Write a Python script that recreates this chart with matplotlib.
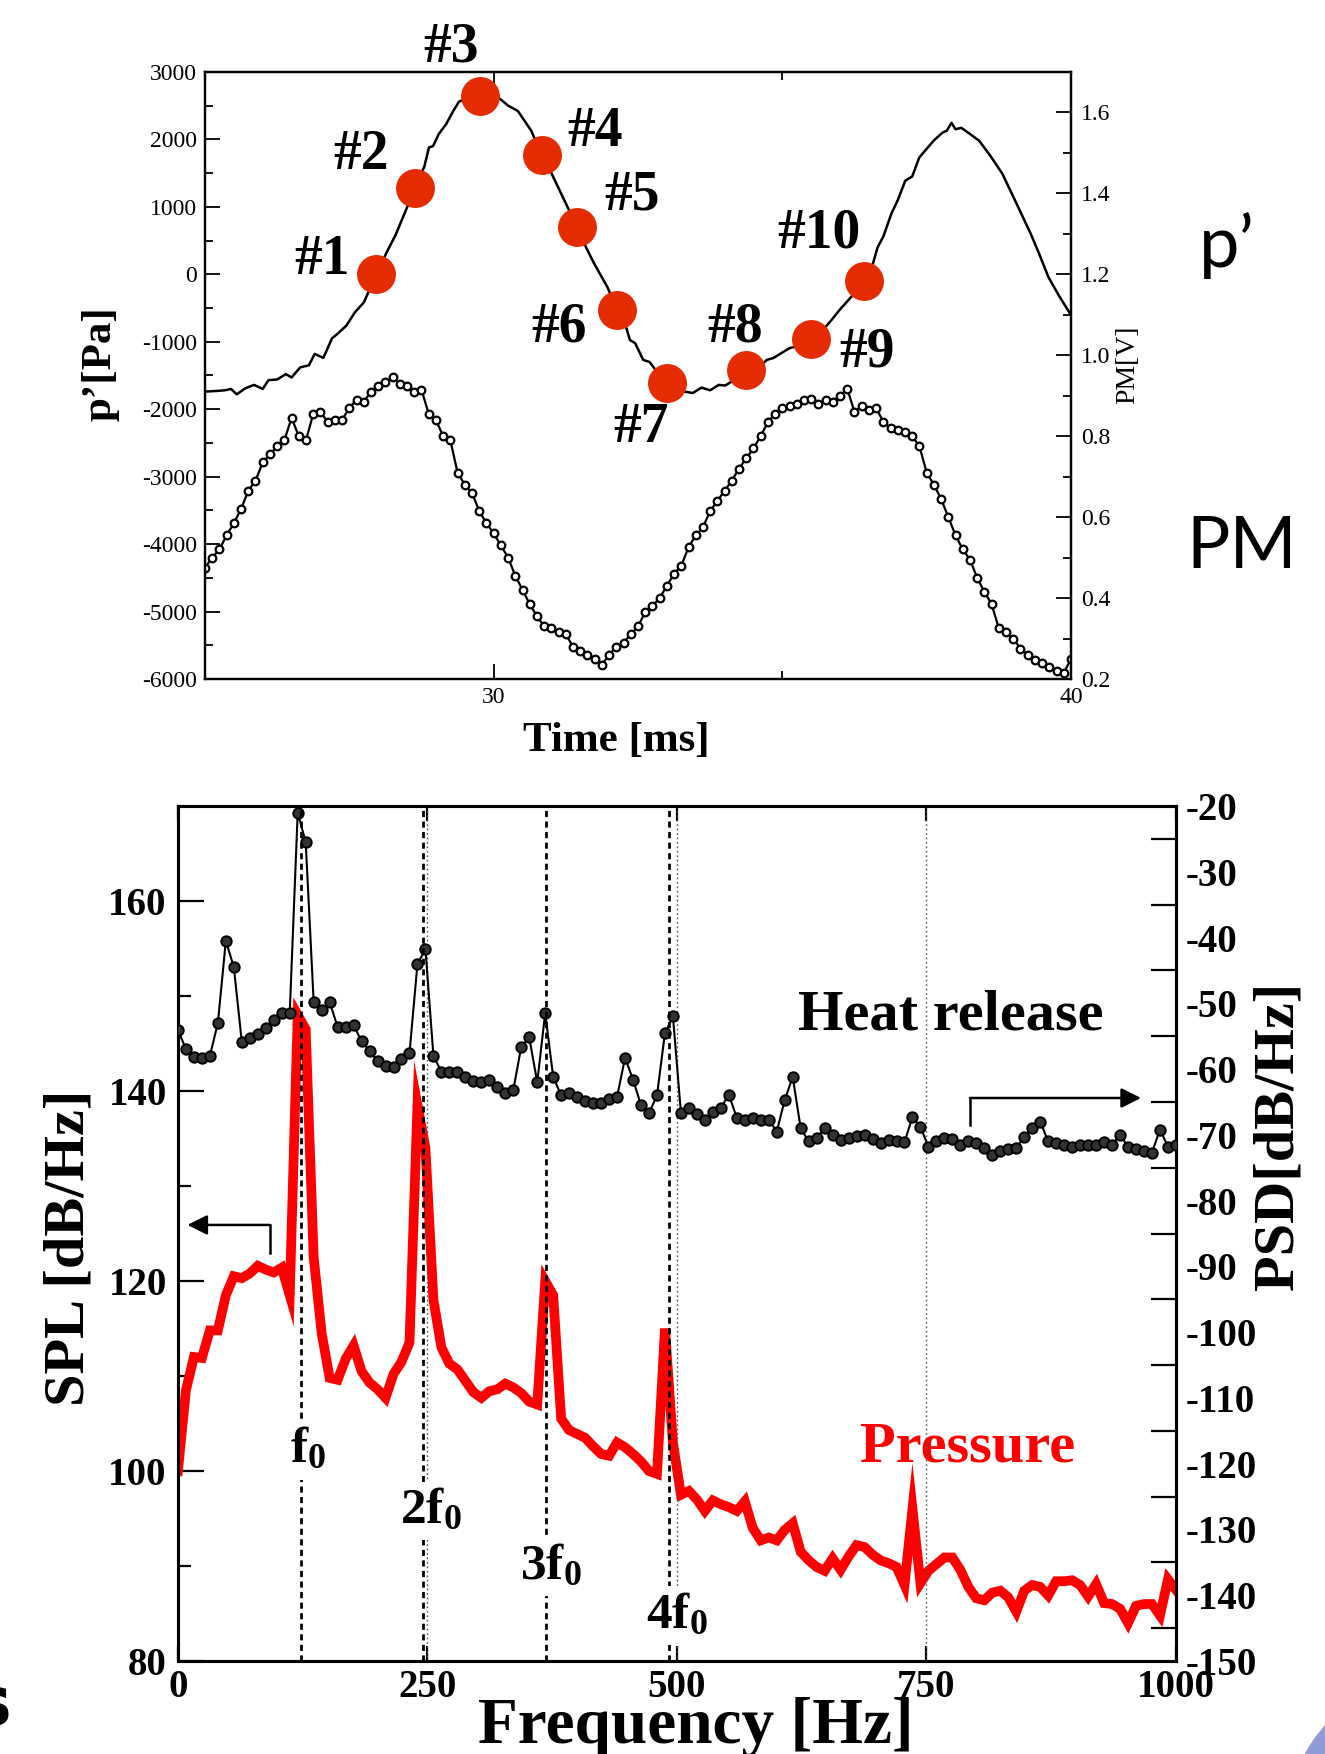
import matplotlib
matplotlib.use("agg")
import matplotlib.pyplot as plt
import numpy as np
from matplotlib.patches import Ellipse

plt.rcParams.update({
    "font.family": "Liberation Serif",
    "mathtext.fontset": "custom",
    "mathtext.rm": "Liberation Serif",
    "mathtext.bf": "Liberation Serif:bold",
    "mathtext.it": "Liberation Serif:italic",
    "axes.unicode_minus": False,
})

# ---- top panel: pressure trace p' [Pa] and PM signal [V] vs time [ms]
p_time = [25.0, 25.2, 25.35, 25.45, 25.55, 25.7, 25.85, 26.0, 26.1, 26.25,
          26.4, 26.5, 26.65, 26.8, 26.9, 27.05, 27.2, 27.3, 27.45, 27.6,
          27.75, 27.97, 28.15, 28.3, 28.48, 28.64, 28.8, 28.88, 28.95, 29.05,
          29.18, 29.3, 29.4, 29.57, 29.77, 29.95, 30.11, 30.25, 30.42, 30.65,
          30.83, 31.0, 31.12, 31.3, 31.45, 31.6, 31.74, 31.97, 32.14, 32.3,
          32.36, 32.45, 32.59, 32.7, 32.85, 33.01, 33.15, 33.3, 33.45, 33.6,
          33.75, 33.9, 34.01, 34.2, 34.37, 34.5, 34.6, 34.73, 34.85, 35.0,
          35.13, 35.3, 35.5, 35.6, 35.7, 35.85, 36.0, 36.2, 36.41, 36.55,
          36.65, 36.75, 36.89, 37.0, 37.13, 37.25, 37.37, 37.5, 37.62, 37.77,
          37.85, 37.93, 38.0, 38.1, 38.25, 38.41, 38.6, 38.81, 39.05, 39.3,
          39.45, 39.61, 39.8, 40.0]
p_pa = [-1740, -1730, -1720, -1700, -1780, -1690, -1640, -1700, -1570, -1560,
        -1480, -1530, -1380, -1350, -1180, -1240, -950, -880, -760, -560,
        -420, 0, 330, 580, 950, 1285, 1600, 1880, 1900, 2080,
        2230, 2420, 2560, 2620, 2644, 2640, 2600, 2500, 2420, 2130,
        1772, 1500, 1285, 960, 694, 400, 160, -190, -532, -800,
        -975, -1020, -1270, -1300, -1470, -1610, -1700, -1740, -1760, -1680,
        -1720, -1640, -1650, -1550, -1418, -1350, -1380, -1270, -1240, -1160,
        -1093, -1060, -960, -880, -830, -680, -520, -330, -103, 100,
        399, 560, 901, 1100, 1388, 1450, 1728, 1860, 1979, 2097,
        2130, 2245, 2150, 2171, 2080, 1979, 1760, 1492, 1060, 605,
        300, -44, -330, -605]

snap_names = ["#1", "#2", "#3", "#4", "#5", "#6", "#7", "#8", "#9", "#10"]
snap_time = [27.97, 28.64, 29.77, 30.83, 31.45, 32.14, 33.01, 34.37, 35.5, 36.41]
snap_pa = [0, 1285, 2644, 1772, 694, -532, -1610, -1418, -960, -103]

pm_time = np.linspace(25.0, 40.0, 121)
pm_volt = [0.475, 0.50, 0.52, 0.555, 0.585, 0.62, 0.665, 0.69, 0.735, 0.755,
           0.775, 0.79, 0.845, 0.80, 0.79, 0.855, 0.86, 0.835, 0.84, 0.84,
           0.87, 0.89, 0.885, 0.91, 0.925, 0.935, 0.945, 0.93, 0.925, 0.91,
           0.915, 0.855, 0.84, 0.80, 0.79, 0.71, 0.68, 0.66, 0.615, 0.585,
           0.56, 0.53, 0.50, 0.455, 0.42, 0.385, 0.355, 0.33, 0.325, 0.315,
           0.31, 0.28, 0.27, 0.26, 0.25, 0.235, 0.26, 0.28, 0.29, 0.31,
           0.33, 0.365, 0.38, 0.40, 0.43, 0.46, 0.48, 0.525, 0.555, 0.575,
           0.615, 0.64, 0.665, 0.69, 0.72, 0.745, 0.77, 0.80, 0.835, 0.855,
           0.87, 0.875, 0.88, 0.89, 0.892, 0.88, 0.89, 0.885, 0.90, 0.917,
           0.86, 0.875, 0.865, 0.87, 0.835, 0.82, 0.815, 0.81, 0.80, 0.775,
           0.71, 0.68, 0.645, 0.60, 0.555, 0.52, 0.495, 0.45, 0.415, 0.385,
           0.325, 0.315, 0.30, 0.275, 0.26, 0.247, 0.24, 0.23, 0.22, 0.215,
           0.25]

# ---- bottom panel: spectra
freq = np.arange(0, 1001, 8)
spl = [100.0, 108.5, 112.0, 111.9, 114.8, 114.8, 118.5, 120.5, 120.3, 120.8,
       121.6, 121.2, 120.9, 121.4, 118.5, 148.0, 146.5, 122.5, 114.5, 109.8,
       109.6, 111.8, 113.2, 110.5, 109.3, 108.6, 107.7, 110.2, 111.5, 113.5,
       138.5, 134.0, 118.0, 113.0, 111.3, 110.7, 109.5, 108.3, 107.7, 108.4,
       108.6, 109.2, 108.8, 108.2, 107.3, 107.0, 120.0, 118.5, 105.5, 104.3,
       103.9, 103.5, 102.6, 101.8, 101.6, 103.0, 102.5, 101.8, 101.0, 100.0,
       99.7, 115.0, 103.0, 97.5, 97.9, 97.0, 95.8, 96.9, 96.5, 96.2,
       95.8, 96.8, 94.0, 92.7, 93.0, 92.7, 93.8, 94.5, 91.5, 90.6,
       89.9, 89.5, 90.8, 89.6, 91.0, 92.2, 92.0, 91.2, 90.6, 90.3,
       89.9, 88.0, 96.0, 88.2, 89.5, 90.2, 90.9, 90.9, 89.6, 87.8,
       86.6, 86.4, 87.2, 87.4, 86.7, 85.2, 87.4, 88.0, 87.8, 86.9,
       88.4, 88.4, 88.5, 88.0, 86.8, 88.1, 86.1, 86.0, 85.5, 84.0,
       85.8, 86.0, 86.0, 84.8, 88.6, 87.5]
psd = [-54.0, -57.0, -58.1, -58.3, -58.0, -53.0, -40.5, -44.5, -55.9, -55.3,
       -54.6, -53.8, -52.5, -51.5, -51.5, -21.0, -25.5, -49.8, -51.0, -49.8,
       -53.6, -53.6, -53.3, -55.8, -57.2, -58.8, -59.6, -59.7, -58.5, -57.6,
       -44.0, -41.8, -58.0, -60.4, -60.5, -60.5, -61.2, -61.8, -62.0, -61.6,
       -62.8, -63.6, -63.2, -56.6, -55.2, -62.0, -51.5, -61.2, -64.0, -63.6,
       -64.3, -64.8, -65.1, -65.2, -64.5, -64.2, -58.3, -61.6, -65.5, -66.7,
       -64.0, -54.5, -52.0, -66.7, -65.9, -66.8, -67.7, -66.5, -65.9, -63.9,
       -67.4, -67.7, -67.5, -67.8, -67.7, -69.5, -64.7, -61.2, -69.0, -71.0,
       -70.5, -69.0, -70.0, -70.8, -70.5, -70.2, -70.0, -70.6, -71.2, -70.8,
       -71.0, -71.1, -67.3, -68.8, -71.8, -71.0, -70.5, -70.6, -71.5, -71.0,
       -71.3, -72.0, -73.0, -72.5, -72.2, -72.0, -70.3, -69.0, -68.0, -71.0,
       -71.3, -71.5, -71.8, -71.5, -71.5, -71.6, -71.1, -71.5, -70.0, -71.8,
       -72.2, -72.5, -72.7, -69.2, -71.8, -71.5]

harmonic_freq = [123, 246, 369, 492]
harmonic_names = [r"$\mathbf{f}_{\mathbf{0}}$", r"$\mathbf{2f}_{\mathbf{0}}$",
                  r"$\mathbf{3f}_{\mathbf{0}}$", r"$\mathbf{4f}_{\mathbf{0}}$"]
grid_freq = [250, 500, 750]

fig = plt.figure(figsize=(13.25, 17.54), dpi=100)

# ================= top panel =================
ax1 = fig.add_axes([0.1547, 0.6129, 0.6536, 0.3461])
ax1r = ax1.twinx()
ax1.set_zorder(ax1r.get_zorder() + 1)
ax1.patch.set_visible(False)

ax1r.plot(pm_time, pm_volt, "-o", color="black", lw=1.6, ms=5.5, mfc="white",
          mec="black", mew=1.6)
ax1.plot(p_time, p_pa, color="black", lw=1.8)
ax1.plot(snap_time, snap_pa, "o", color="#e52b00", ms=27, zorder=5)

snap_label_pos = [(27.03, 216), (27.71, 1774), (29.26, 3366), (31.75, 2106),
                  (32.39, 1161), (31.13, -796), (32.56, -2272), (34.19, -796),
                  (36.47, -1161), (35.64, 597)]
for name, (lx, ly) in zip(snap_names, snap_label_pos):
    ax1.text(lx, ly, name, fontsize=40, fontweight="bold", ha="center",
             va="center", clip_on=False, zorder=6)

ax1.set_xlim(25, 40)
ax1.set_ylim(-6000, 3000)
ax1r.set_ylim(0.2, 1.7)

yt = list(range(-6000, 3001, 1000))
ax1.set_yticks(yt)
ax1.set_yticklabels([str(v) for v in yt])
ax1.set_yticks(list(range(-5500, 3000, 1000)), minor=True)
ax1.set_xticks([30, 40])
ax1.set_xticklabels(["30", "40"])
ax1.set_xticks([35], minor=True)
rt = [0.2, 0.4, 0.6, 0.8, 1.0, 1.2, 1.4, 1.6]
ax1r.set_yticks(rt)
ax1r.set_yticklabels([f"{v:.1f}" for v in rt])
ax1r.set_yticks([0.3, 0.5, 0.7, 0.9, 1.1, 1.3, 1.5], minor=True)

ax1.tick_params(which="both", direction="in", top=True, labelsize=17, width=1.3)
ax1.tick_params(which="major", length=11, pad=6)
ax1.tick_params(which="minor", length=6)
ax1r.tick_params(which="both", direction="in", labelsize=17, width=1.3)
ax1r.tick_params(which="major", length=11, pad=7)
ax1r.tick_params(which="minor", length=6)
for a in (ax1, ax1r):
    for s in a.spines.values():
        s.set_linewidth(1.6)

ax1.text(0.475, -0.102, "Time [ms]", transform=ax1.transAxes, fontsize=31,
         fontweight="bold", ha="center", va="center")
ax1.text(-0.121, 0.519, "p’[Pa]", transform=ax1.transAxes, fontsize=31,
         fontweight="bold", ha="center", va="center", rotation=90)
ax1.text(1.065, 0.517, "PM[V]", transform=ax1.transAxes, fontsize=20,
         ha="center", va="center", rotation=90)

fig.text(0.926, 0.86, "p’", fontsize=52, family="Lato", ha="center", va="center")
fig.text(0.937, 0.6876, "PM", fontsize=52, family="Lato", ha="center", va="center")

# ================= bottom panel =================
ax = fig.add_axes([0.1343, 0.0530, 0.7532, 0.4875])
ax2 = ax.twinx()

ax.plot(freq, spl, color="red", lw=7, solid_joinstyle="miter")
ax2.plot(freq, psd, "-o", color="black", lw=1.5, ms=7.5, mfc="#333333",
         mec="black", mew=1.4, zorder=3)
for g in grid_freq:
    ax2.axvline(g, color="#555555", ls=(0, (1.2, 2)), lw=1.0, zorder=2)
for h in harmonic_freq:
    ax2.axvline(h, color="black", ls=(0, (2.2, 1.6)), lw=2.0, zorder=4)

harm_label_pos = [(130, 102.2), (253, 95.8), (374, 89.9), (500, 84.8)]
for name, (lx, ly) in zip(harmonic_names, harm_label_pos):
    ax2.text(lx, ly, name, transform=ax.transData, fontsize=37, ha="center",
             va="center", zorder=6,
             bbox=dict(boxstyle="square,pad=0.12", fc="white", ec="none"))

ax.set_xlim(0, 1000)
ax.set_ylim(80, 170)
ax2.set_ylim(-150, -20)

xt = [0, 250, 500, 750, 1000]
ax.set_xticks(xt)
ax.set_xticklabels([str(v) for v in xt])
lt = [80, 100, 120, 140, 160]
ax.set_yticks(lt)
ax.set_yticklabels([str(v) for v in lt])
ax.set_yticks([90, 110, 130, 150], minor=True)
rt2 = list(range(-150, -19, 10))
ax2.set_yticks(rt2)
ax2.set_yticklabels([str(v) for v in rt2])
ax2.set_yticks(list(range(-145, -20, 10)), minor=True)

ax.tick_params(which="both", direction="in", top=True, labelsize=28, width=1.6)
ax.tick_params(axis="y", which="major", length=19, pad=8)
ax.tick_params(axis="y", which="minor", length=9)
ax.tick_params(axis="x", which="major", length=11, pad=6)
ax2.tick_params(which="both", direction="in", labelsize=28, width=1.6)
ax2.tick_params(which="major", length=0, pad=7)
ax2.tick_params(which="minor", length=18)
for lab in ax.get_xticklabels() + ax.get_yticklabels() + ax2.get_yticklabels():
    lab.set_fontweight("bold")
for a in (ax, ax2):
    for s in a.spines.values():
        s.set_linewidth(2.2)

ax.text(-0.109, 0.483, "SPL [dB/Hz]", transform=ax.transAxes, fontsize=42,
        fontweight="bold", ha="center", va="center", rotation=90)
ax.text(1.103, 0.614, "PSD[dB/Hz]", transform=ax.transAxes, fontsize=42,
        fontweight="bold", ha="center", va="center", rotation=90)
ax.text(0.519, -0.077, "Frequency [Hz]", transform=ax.transAxes, fontsize=47,
        fontweight="bold", ha="center", va="center")

ax2.text(774.5, -51.9, "Heat release", fontsize=42, fontweight="bold",
         ha="center", va="center", zorder=6)
ax.text(791.6, 102.5, "Pressure", fontsize=42, fontweight="bold", color="red",
        ha="center", va="center")

# direction arrows
ax.plot([92, 92], [122.9, 125.9], color="black", lw=1.8)
ax.annotate("", xy=(9.5, 125.9), xytext=(92, 125.9),
            arrowprops=dict(arrowstyle="-|>", mutation_scale=30, lw=1.8,
                            color="black", shrinkA=0, shrinkB=0))
ax2.plot([793.6, 793.6], [-68.5, -64.4], color="black", lw=1.8, zorder=5)
ax2.annotate("", xy=(965, -64.4), xytext=(793.6, -64.4),
             arrowprops=dict(arrowstyle="-|>", mutation_scale=30, lw=1.8,
                             color="black", shrinkA=0, shrinkB=0))

# slide leftovers at the corners
fig.text(11 / 1325, 29 / 1754, "s", fontsize=48, fontweight="bold",
         family="DejaVu Sans", ha="right", va="baseline")
fig.patches.append(Ellipse((1420 / 1325, -60 / 1754), 260 / 1325, 260 / 1754,
                           transform=fig.transFigure, fc="#8f9ad6", ec="none"))

fig.savefig("out.png", dpi=100)
